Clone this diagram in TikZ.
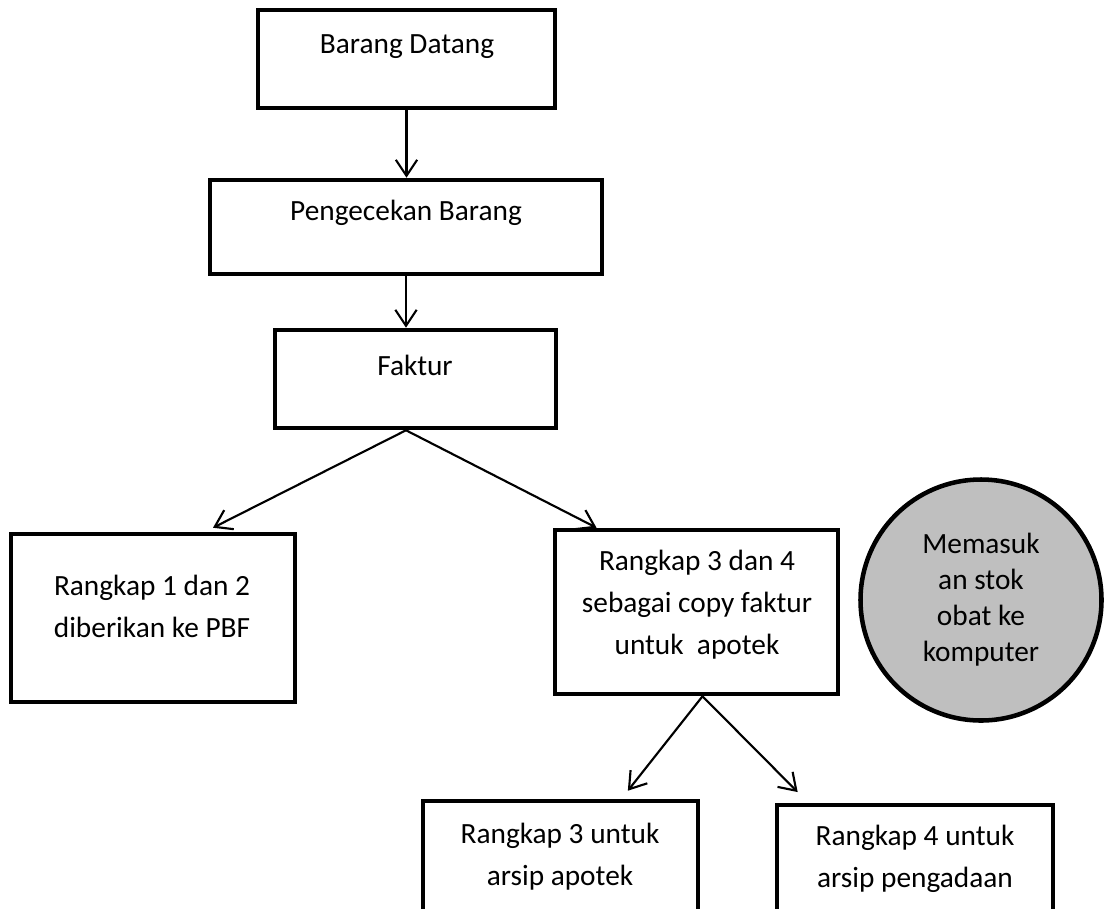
\documentclass[tikz,border=0pt]{standalone}
\usepackage{fontspec}
\setmainfont{Carlito}
\usetikzlibrary{arrows.meta}
\definecolor{circlegray}{RGB}{191,191,191}

\begin{document}
\begin{tikzpicture}[x=0.75pt, y=-0.75pt]

\tikzset{box/.style = {shape=rectangle, draw, line width=3.4pt, fill=white}}
\tikzset{circ/.style = {shape=circle, draw, line width=3.4pt, fill=circlegray, minimum size=180.75pt, align=center, font=\fontsize{22}{27}\selectfont}}
\tikzset{txt/.style = {align=center, font=\fontsize{22}{31.5}\selectfont}}
\tikzset{edge/.style = {-{Straight Barb[length=12pt, width=16pt]}, line width=1.6pt}}

\useasboundingbox (0,0) rectangle (1107,908);
\clip (0,0) rectangle (1107,908);
%boxes
\node[box, minimum width=222.75pt, minimum height=73.5pt] (barang) at (406.5,59) {};
\node[box, minimum width=294pt, minimum height=70.5pt] (pengecekan) at (406,227) {};
\node[box, minimum width=210.75pt, minimum height=73.5pt] (faktur) at (415.5,379) {};
\node[box, minimum width=213pt, minimum height=126pt] (rangkap12) at (153,618) {};
\node[box, minimum width=212.25pt, minimum height=123pt] (rangkap34) at (696.5,612) {};
\node[circ] (komputer) at (981,600) {Memasuk\\an stok\\obat ke\\komputer};
\node[box, minimum width=206.25pt, minimum height=105pt] (arsipapotek) at (560.5,871) {};
\node[box, minimum width=207pt, minimum height=105pt] (arsippengadaan) at (915,875) {};
%texts
\node[txt] (tbarang) at (407,47) {Barang Datang};
\node[txt] (tpengecekan) at (406,213) {Pengecekan Barang};
\node[txt] (tfaktur) at (415,365) {Faktur};
\node[txt] (trangkap12) at (152,606) {Rangkap 1 dan 2\\diberikan ke PBF};
\node[txt] (trangkap34) at (697,605) {Rangkap 3 dan 4\\sebagai copy faktur\\untuk\ \ apotek};
\node[txt] (tarsipapotek) at (560,857) {Rangkap 3 untuk\\arsip apotek};
\node[txt] (tarsippengadaan) at (915,859) {Rangkap 4 untuk\\arsip pengadaan};
%edges
\draw[edge] (barang.south) -- (barang.south |- pengecekan.north);
\draw[edge] (pengecekan.south) -- (pengecekan.south |- faktur.north);
\draw[edge] (faktur.south -| pengecekan.south) -- ([xshift=45pt, yshift=3pt]rangkap12.north);
\draw[edge] (faktur.south -| pengecekan.south) -- ([xshift=-75pt]rangkap34.north);
\draw[edge] ([xshift=4.5pt]rangkap34.south) -- ([xshift=50.5pt, yshift=6pt]arsipapotek.north);
\draw[edge] ([xshift=4.5pt]rangkap34.south) -- ([xshift=-88pt, yshift=8pt]arsippengadaan.north);

\end{tikzpicture}
\end{document}
